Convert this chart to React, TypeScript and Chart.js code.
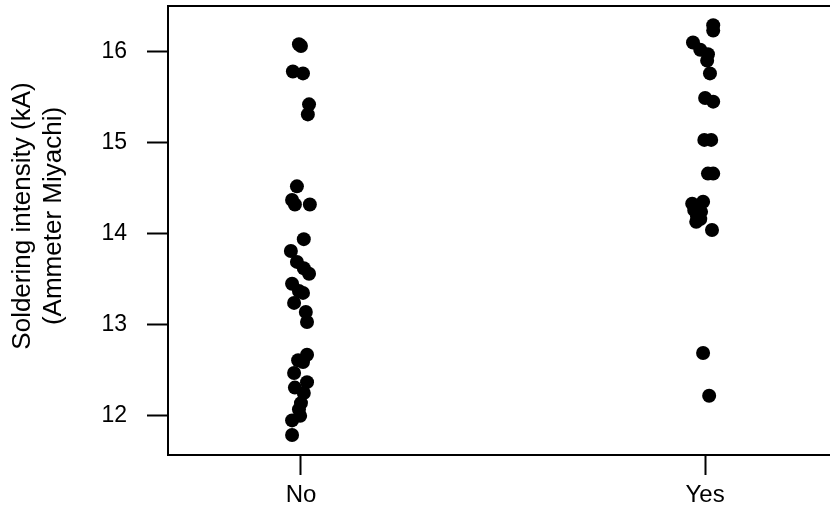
import React, { useEffect, useRef } from "react";
import { Chart, registerables } from "chart.js";

Chart.register(...registerables);

const CATEGORIES = ["No", "Yes"];
const Y_TICKS = [12, 13, 14, 15, 16];
const AXIS_TITLE = ["Soldering intensity (kA)", "(Ammeter Miyachi)"];

// "No" group: measured values and horizontal jitter (in category units)
const NO_VALUES = [
  16.08, 16.06, 15.78, 15.76, 15.42, 15.31, 14.52, 14.37, 14.32, 14.32, 13.94,
  13.81, 13.69, 13.62, 13.56, 13.45, 13.37, 13.35, 13.24, 13.14, 13.03, 12.67,
  12.61, 12.59, 12.47, 12.37, 12.31, 12.25, 12.14, 12.07, 12.0, 11.95, 11.79,
];
const NO_JITTER = [
  -0.005, 0, -0.02, 0.005, 0.02, 0.017, -0.01, -0.022, -0.015, 0.022, 0.007,
  -0.025, -0.01, 0.007, 0.02, -0.022, -0.005, 0.005, -0.017, 0.012, 0.015,
  0.015, -0.007, 0.005, -0.017, 0.015, -0.015, 0.007, 0, -0.005, -0.002, -0.022,
  -0.022,
];

// "Yes" group
const YES_VALUES = [
  16.29, 16.23, 16.1, 16.02, 15.97, 15.9, 15.76, 15.49, 15.45, 15.03, 15.03,
  14.66, 14.66, 14.33, 14.35, 14.26, 14.24, 14.19, 14.16, 14.13, 14.04, 12.69,
  12.22,
];
const YES_JITTER = [
  0.02, 0.02, -0.03, -0.012, 0.007, 0.005, 0.012, 0, 0.02, -0.002, 0.015, 0.007,
  0.02, -0.032, -0.005, -0.027, -0.01, -0.02, -0.012, -0.022, 0.017, -0.005,
  0.01,
];

const FONT = "'Liberation Sans', Arial, Helvetica, sans-serif";

const boxPlugin = {
  id: "boxAndTitle",
  afterDraw(chart: any) {
    const { ctx, chartArea } = chart;
    ctx.save();
    ctx.strokeStyle = "#000";
    ctx.lineWidth = 2;
    ctx.beginPath();
    ctx.moveTo(chartArea.left, chartArea.top);
    ctx.lineTo(chartArea.right, chartArea.top);
    ctx.stroke();
    ctx.restore();

    ctx.save();
    ctx.fillStyle = "#000";
    ctx.font = `26px ${FONT}`;
    ctx.textAlign = "center";
    ctx.textBaseline = "middle";
    const xs = [23, 54];
    AXIS_TITLE.forEach((t, i) => {
      ctx.save();
      ctx.translate(xs[i], 216);
      ctx.rotate(-Math.PI / 2);
      ctx.fillText(t, 0, 0);
      ctx.restore();
    });
    ctx.restore();
  },
};

export default function App() {
  const ref = useRef<HTMLCanvasElement>(null);

  useEffect(() => {
    if (!ref.current) return;
    const toPoints = (vals: number[], jit: number[], cat: number) =>
      vals.map((v, i) => ({ x: cat + jit[i], y: v }));

    const chart = new Chart(ref.current, {
      type: "scatter",
      data: {
        datasets: [
          {
            label: CATEGORIES[0],
            data: toPoints(NO_VALUES, NO_JITTER, 0),
            backgroundColor: "#000",
            borderColor: "#000",
            pointRadius: 7,
            borderWidth: 0,
          },
          {
            label: CATEGORIES[1],
            data: toPoints(YES_VALUES, YES_JITTER, 1),
            backgroundColor: "#000",
            borderColor: "#000",
            pointRadius: 7,
            borderWidth: 0,
          },
        ],
      },
      options: {
        responsive: false,
        animation: false,
        layout: { autoPadding: false, padding: { top: 6, left: 0, right: 0, bottom: 0 } },
        plugins: {
          legend: { display: false },
          tooltip: { enabled: false },
        },
        scales: {
          x: {
            type: "linear",
            min: -0.329,
            max: 1.309,
            afterBuildTicks: (axis: any) => {
              axis.ticks = CATEGORIES.map((_, i) => ({ value: i }));
            },
            afterFit: (axis: any) => {
              axis.height = 53;
              axis.paddingLeft = 0;
              axis.paddingRight = 0;
            },
            ticks: {
              callback: (v: any) => CATEGORIES[Math.round(Number(v))] ?? "",
              color: "#000",
              font: { family: FONT, size: 24 },
              padding: 6,
              maxRotation: 0,
            },
            grid: {
              drawOnChartArea: false,
              drawTicks: true,
              tickLength: 20,
              tickWidth: 2,
              tickColor: "#000",
            },
            border: { display: true, color: "#000", width: 2 },
          },
          y: {
            type: "linear",
            min: 11.57,
            max: 16.5,
            afterBuildTicks: (axis: any) => {
              axis.ticks = Y_TICKS.map((v) => ({ value: v }));
            },
            afterFit: (axis: any) => {
              axis.width = 168;
              axis.paddingTop = 0;
              axis.paddingBottom = 0;
            },
            ticks: {
              color: "#000",
              font: { family: FONT, size: 23 },
              padding: 20,
            },
            grid: {
              drawOnChartArea: false,
              drawTicks: true,
              tickLength: 21,
              tickWidth: 2,
              tickColor: "#000",
            },
            border: { display: true, color: "#000", width: 2 },
          },
        },
      },
      plugins: [boxPlugin],
    });
    return () => chart.destroy();
  }, []);

  return (
    <div style={{ position: "absolute", left: 0, top: 0, width: 830, height: 508, background: "#fff" }}>
      <canvas ref={ref} width={830} height={508} />
    </div>
  );
}
